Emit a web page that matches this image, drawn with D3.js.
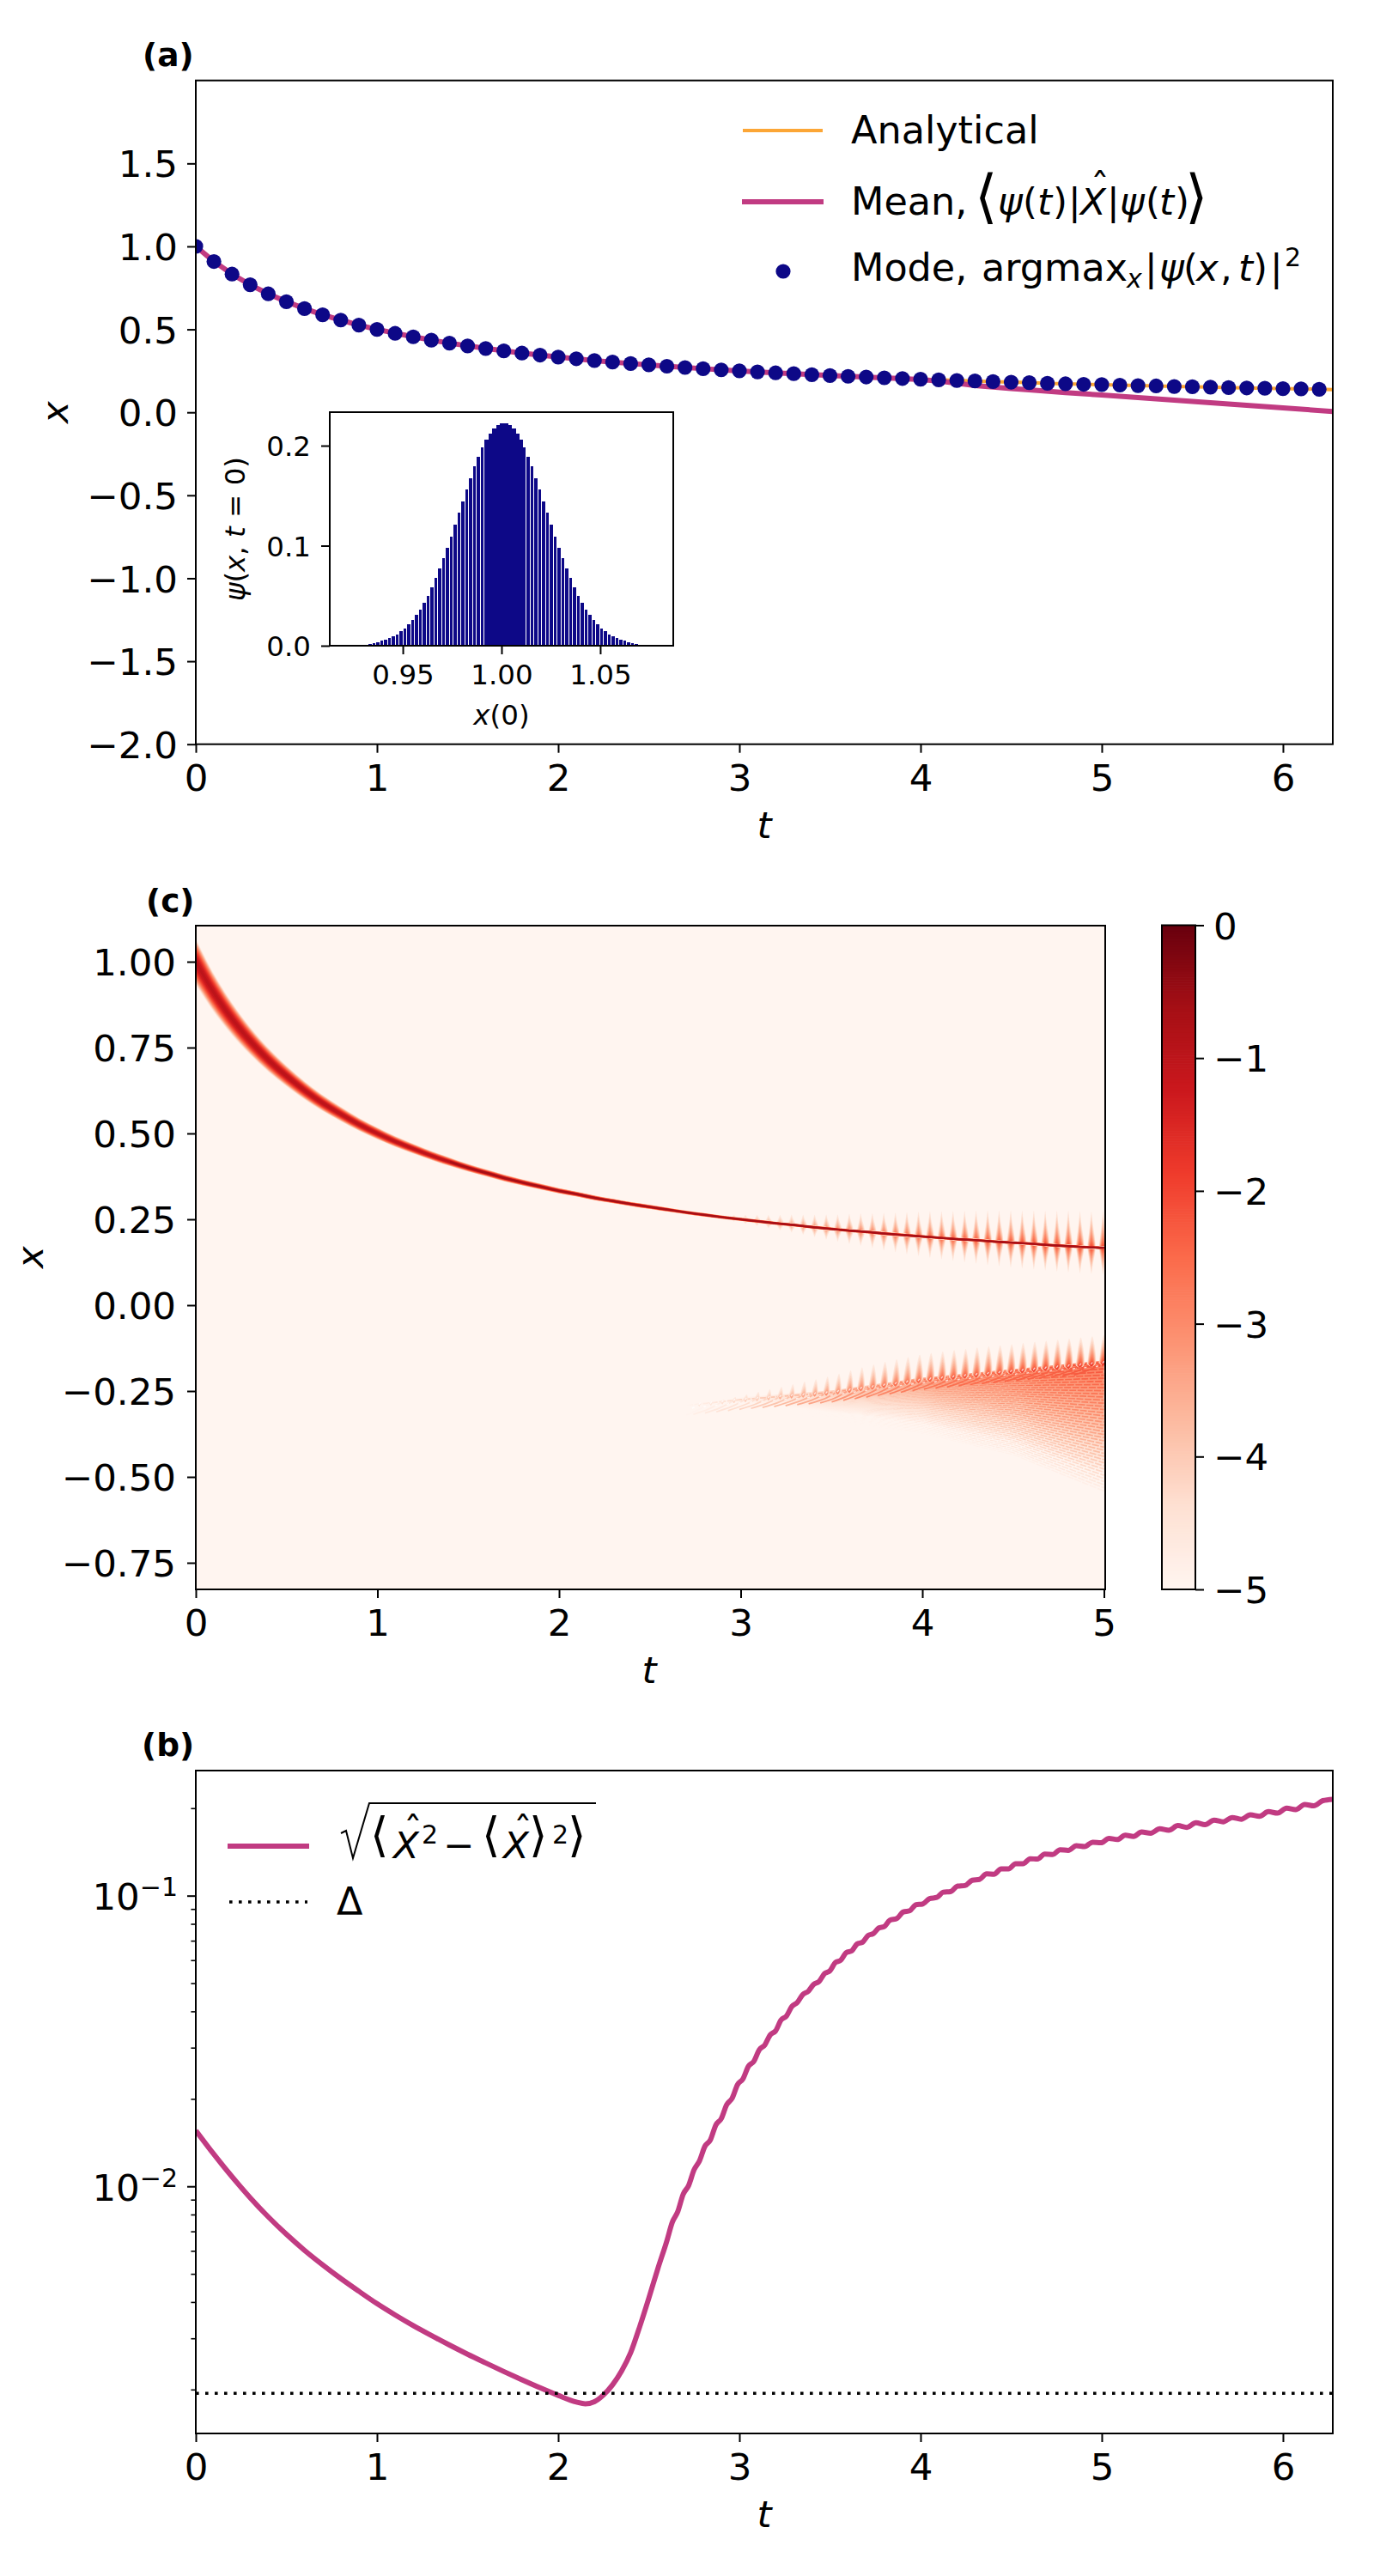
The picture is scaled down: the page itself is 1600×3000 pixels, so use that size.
<!DOCTYPE html>
<meta charset="utf-8">
<script src="https://d3js.org/d3.v7.min.js"></script>
<style>
body { margin: 0; background: #fff; }
text { font-family: "DejaVu Sans", sans-serif; fill: #000; }
</style>
<body>
<div id="my_dataviz"></div>
<script>

// time grid of the mode dots and the analytical curve
var tGrid = [0,.1,.2,.3,.4,.5,.6,.7,.8,.9,1,1.1,1.2,1.3,1.4,1.5,1.6,1.7,1.8,1.9,2,2.1,2.2,2.3,2.4,2.5,2.6,2.7,2.8,2.9,3,3.1,3.2,3.3,3.4,3.5,3.6,3.7,3.8,3.9,4,4.1,4.2,4.3,4.4,4.5,4.6,4.7,4.8,4.9,5,5.1,5.2,5.3,5.4,5.5,5.6,5.7,5.8,5.9,6,6.1,6.2]
var modeX = [1,.909,.833,.769,.714,.667,.625,.588,.556,.526,.5,.476,.455,.435,.417,.4,.385,.37,.357,.345,.333,.323,.312,.303,.294,.286,.278,.27,.263,.256,.25,.244,.238,.233,.227,.222,.217,.213,.208,.204,.2,.196,.192,.189,.185,.182,.179,.175,.172,.169,.167,.164,.161,.159,.156,.154,.152,.149,.147,.145,.143,.141,.139]
var analyticT = tGrid.concat([6.28])
var analyticX = modeX.concat([.137])

var meanT = [0,.1,.2,.3,.4,.5,.6,.7,.8,.9,1,1.2,1.4,1.6,1.8,2,2.2,2.4,2.6,2.8,3,3.2,3.4,3.6,3.8,4,4.1,4.2,4.3,4.4,4.5,4.6,4.8,5,5.2,5.4,5.6,5.8,6,6.28]
var meanX = [1,.909,.833,.769,.714,.667,.625,.588,.556,.526,.5,.455,.417,.385,.357,.333,.312,.294,.278,.263,.25,.238,.227,.217,.208,.198,.188,.176,.162,.152,.143,.135,.119,.104,.089,.074,.058,.043,.027,.005]

// inset histogram
var insetX = [.9318,.9337,.9357,.9376,.9396,.9415,.9435,.9454,.9474,.9494,.9513,.9533,.9552,.9572,.9591,.9611,.963,.965,.9669,.9689,.9708,.9728,.9747,.9767,.9786,.9806,.9825,.9845,.9865,.9884,.9904,.9923,.9943,.9962,.9982,1.0001,1.0021,1.004,1.006,1.0079,1.0099,1.0118,1.0138,1.0157,1.0177,1.0196,1.0216,1.0236,1.0255,1.0275,1.0294,1.0314,1.0333,1.0353,1.0372,1.0392,1.0411,1.0431,1.045,1.047,1.0489,1.0509,1.0528,1.0548,1.0567,1.0587,1.0607,1.0626,1.0646,1.0665,1.0685,1.0704]
var insetPsi = [.0009,.0017,.0026,.0035,.0052,.0061,.0078,.0095,.0113,.0147,.0173,.0216,.026,.0311,.0363,.0432,.0502,.0588,.0674,.0769,.0873,.0977,.1089,.1211,.1332,.1444,.1565,.1677,.179,.1885,.198,.2058,.2118,.217,.2207,.2222,.2222,.2207,.217,.2118,.2058,.198,.1885,.179,.1677,.1565,.1444,.1332,.1211,.1089,.0977,.0873,.0769,.0674,.0588,.0502,.0432,.0363,.0311,.026,.0216,.0173,.0147,.0113,.0095,.0078,.0061,.0052,.0035,.0026,.0017,.0009]

// heatmap: main ridge, read per 0.1 in t (tGrid up to 5)
var ridgeSigma = [.0162,.0134,.0113,.0096,.0083,.0072,.0063,.0056,.005,.0045,.0041,.0037,.0034,.0031,.0029,.0026,.0024,.0023,.0021,.002,.0018,.0017,.0016,.0015,.0014,.0014,.0013,.0012,.0012,.0011,.0011,.0011,.001,.001,.001,.001,.001,.001,.001,.001,.0009,.0009,.0009,.0009,.0009,.0009,.0009,.0009,.0009,.0009,.0009]
var ridgeTop = [-1.05,-1.04,-1.03,-1.02,-1.01,-1,-.99,-.98,-.97,-.96,-.95,-.94,-.92,-.91,-.89,-.88,-.86,-.84,-.83,-.81,-.8,-.79,-.78,-.77,-.76,-.75,-.74,-.73,-.72,-.71,-.7,-.69,-.68,-.67,-.66,-.65,-.64,-.63,-.62,-.61,-.6,-.59,-.58,-.57,-.56,-.55,-.54,-.53,-.52,-.51,-.5]

// heatmap: interference lobes, one entry per oscillation period
var combT = [2.772,2.836,2.899,2.963,3.026,3.09,3.153,3.217,3.28,3.344,3.407,3.471,3.534,3.598,3.661,3.725,3.788,3.852,3.915,3.979,4.042,4.106,4.169,4.233,4.296,4.36,4.423,4.487,4.55,4.614,4.677,4.741,4.804,4.868,4.931,4.995]
var combUp = [.003,.006,.01,.014,.018,.022,.026,.03,.034,.038,.042,.046,.05,.055,.059,.063,.067,.071,.075,.079,.083,.086,.089,.092,.095,.098,.1,.102,.104,.106,.108,.11,.112,.113,.114,.115]
var combDown = [.003,.005,.008,.011,.014,.017,.02,.023,.026,.029,.033,.037,.04,.044,.047,.051,.055,.058,.061,.064,.067,.069,.071,.073,.075,.077,.078,.079,.08,.081,.082,.083,.083,.084,.084,.085]
var combLevel = [-4.7,-4.45,-4.2,-4,-3.8,-3.65,-3.5,-3.4,-3.3,-3.2,-3.1,-3,-2.95,-2.85,-2.8,-2.75,-2.7,-2.6,-2.55,-2.5,-2.45,-2.4,-2.35,-2.3,-2.25,-2.2,-2.2,-2.15,-2.1,-2.1,-2.05,-2.05,-2,-2,-1.95,-1.95]
var lobeTip = [.004,.007,.011,.015,.02,.025,.03,.035,.04,.045,.05,.055,.06,.065,.069,.073,.076,.079,.081,.083,.084,.085,.086,.086,.087,.087,.087,.087,.087,.087,.087,.087,.087,.087,.087,.087]
var lobeLevel = [-4.7,-4.6,-4.45,-4.3,-4.15,-4,-3.85,-3.7,-3.55,-3.4,-3.3,-3.15,-3.05,-2.95,-2.85,-2.8,-2.7,-2.65,-2.6,-2.5,-2.45,-2.4,-2.35,-2.3,-2.25,-2.2,-2.2,-2.15,-2.1,-2.1,-2.05,-2.05,-2,-2,-1.95,-1.95]

// heatmap: envelope of the lower fan
var fanT = [2.7,3,3.5,4,4.5,5]
var fanTop = [-.292,-.275,-.254,-.217,-.192,-.167]
var fanBottom = [-.292,-.305,-.335,-.375,-.44,-.55]
var fanLevel = [-5,-4.2,-3.4,-2.7,-2.35,-2.05]

var stdT = [0,.1,.2,.3,.4,.5,.6,.7,.8,.9,1,1.1,1.2,1.3,1.4,1.5,1.6,1.7,1.8,1.9,2,2.1,2.15,2.2,2.25,2.3,2.35,2.4,2.45,2.5,2.55,2.6,2.63,2.66,2.69,2.72,2.75,2.78,2.81,2.84,2.87,2.9,2.93,2.96,2.99,3.02,3.05,3.08,3.11,3.14,3.17,3.2,3.23,3.26,3.29,3.32,3.35,3.38,3.41,3.44,3.47,3.5,3.53,3.56,3.59,3.62,3.65,3.68,3.71,3.74,3.77,3.8,3.83,3.87,3.905,3.94,3.975,4.01,4.05,4.09,4.125,4.165,4.205,4.245,4.285,4.325,4.365,4.405,4.445,4.485,4.525,4.565,4.605,4.645,4.685,4.73,4.77,4.815,4.86,4.905,4.95,4.995,5.04,5.085,5.13,5.175,5.22,5.27,5.32,5.37,5.42,5.47,5.52,5.57,5.62,5.67,5.72,5.77,5.82,5.87,5.92,5.97,6.02,6.07,6.12,6.17,6.22,6.28]
var stdLog = [-1.808,-1.89,-1.967,-2.039,-2.105,-2.165,-2.22,-2.27,-2.317,-2.361,-2.4036,-2.4425,-2.479,-2.513,-2.546,-2.5775,-2.6075,-2.637,-2.6655,-2.693,-2.719,-2.742,-2.7482,-2.7408,-2.7176,-2.6828,-2.6354,-2.5722,-2.4826,-2.385,-2.283,-2.187,-2.123,-2.087,-2.027,-1.997,-1.943,-1.912,-1.862,-1.84,-1.789,-1.767,-1.719,-1.697,-1.65,-1.63,-1.587,-1.57,-1.53,-1.514,-1.479,-1.465,-1.428,-1.414,-1.381,-1.367,-1.34,-1.329,-1.305,-1.295,-1.268,-1.258,-1.23,-1.222,-1.196,-1.19,-1.166,-1.16,-1.137,-1.13,-1.111,-1.106,-1.085,-1.078,-1.056,-1.052,-1.031,-1.029,-1.01,-1.006,-.988,-.986,-.967,-.965,-.947,-.944,-.925,-.926,-.908,-.908,-.89,-.89,-.873,-.874,-.857,-.858,-.842,-.844,-.828,-.831,-.816,-.818,-.803,-.807,-.792,-.796,-.781,-.785,-.77,-.775,-.759,-.765,-.749,-.756,-.74,-.746,-.731,-.737,-.722,-.727,-.711,-.716,-.699,-.704,-.686,-.691,-.673,-.668]
var deltaValue = .00194

var tTicksLong = [0,1,2,3,4,5,6]
var tTicksHeat = [0,1,2,3,4,5]
var xTicksA = [-2,-1.5,-1,-.5,0,.5,1,1.5]
var xTicksC = [-.75,-.5,-.25,0,.25,.5,.75,1]
var cbTicks = [-5,-4,-3,-2,-1,0]
var logMajor = [.01,.1]
var logMinor = [.002,.003,.004,.005,.006,.007,.008,.009,.02,.03,.04,.05,.06,.07,.08,.09,.2]

var navy = "#0d0887", pink = "#c13b82", orange = "#fca636"
var big = 43.5, mid = 32.5, sub = 30

var svg = d3.select("#my_dataviz").append("svg")
  .attr("width", 1600).attr("height", 3000)
  .style("display", "block")

var defs = svg.append("defs")

function clipRect(id, x, y, w, h) {
  defs.append("clipPath").attr("id", id).append("rect")
    .attr("x", x).attr("y", y).attr("width", w).attr("height", h)
}

function frame(x0, x1, y0, y1) {
  svg.append("rect").attr("x", x0).attr("y", y0)
    .attr("width", x1 - x0).attr("height", y1 - y0)
    .attr("fill", "none").attr("stroke", "#000").attr("stroke-width", 2)
}

function styleAxis(g, size, dy) {
  g.select(".domain").remove()
  g.selectAll(".tick line").attr("stroke", "#000").attr("stroke-width", 2)
  g.selectAll(".tick text").attr("font-size", size).attr("fill", "#000")
    .attr("font-family", '"DejaVu Sans"')
  if (dy) g.selectAll(".tick text").attr("dy", dy)
}

function bottomAxis(scale, values, y, fmt, size, pad) {
  var g = svg.append("g").attr("transform", "translate(0," + y + ")")
    .call(d3.axisBottom(scale).tickValues(values).tickSize(10).tickPadding(pad).tickFormat(fmt))
  styleAxis(g, size)
  return g
}

function leftAxis(scale, values, x, fmt, size, pad) {
  var g = svg.append("g").attr("transform", "translate(" + x + ",0)")
    .call(d3.axisLeft(scale).tickValues(values).tickSize(10).tickPadding(pad).tickFormat(fmt))
  styleAxis(g, size, ".36em")
  return g
}

function label(x, y, str, size, opts) {
  opts = opts || {}
  var t = svg.append("text").attr("font-size", size).text(str)
  t.attr("x", x).attr("y", y)
  if (opts.italic) t.attr("font-style", "italic")
  if (opts.bold) t.attr("font-weight", "bold")
  if (opts.anchor) t.attr("text-anchor", opts.anchor)
  if (opts.rotate) t.attr("x", 0).attr("y", 0).attr("transform", "translate(" + x + "," + y + ") rotate(-90)")
  return t
}

// one text element per formula, each piece [x, y, string, size, italic]
function formula(pieces) {
  var t = svg.append("text")
  pieces.forEach(function(p) {
    var s = t.append("tspan").attr("x", p[0]).attr("y", p[1]).attr("font-size", p[3] || big).text(p[2])
    if (p[4]) s.attr("font-style", "italic")
  })
  return t
}

// ---------- panel (a)
var xA = d3.scaleLinear().domain([0, 6.275]).range([228, 1552])
var yA = d3.scaleLinear().domain([-2, 2]).range([866.7, 93.7])
clipRect("clipA", 228, 93.7, 1324, 773)

var lineA = d3.line().x(function(d) { return xA(d[0]) }).y(function(d) { return yA(d[1]) })
var gA = svg.append("g").attr("clip-path", "url(#clipA)")
gA.append("path").attr("d", lineA(d3.zip(analyticT, analyticX)))
  .attr("fill", "none").attr("stroke", orange).attr("stroke-width", 4)
gA.append("path").attr("d", lineA(d3.zip(meanT, meanX)))
  .attr("fill", "none").attr("stroke", pink).attr("stroke-width", 6)
gA.selectAll("circle").data(d3.zip(tGrid, modeX)).enter().append("circle")
  .attr("cx", function(d) { return xA(d[0]) })
  .attr("cy", function(d) { return yA(d[1]) })
  .attr("r", 8.6).attr("fill", navy)

bottomAxis(xA, tTicksLong, 866.7, d3.format("d"), big, 13.5)
leftAxis(yA, xTicksA, 228, d3.format(".1f"), big, 11)
frame(228, 1552, 93.7, 866.7)
label(166, 77, "(a)", 37.5, { bold: true })
label(890, 976, "t", big, { italic: true, anchor: "middle" })
label(79, 480, "x", big, { italic: true, anchor: "middle", rotate: true })

// legend (a)
svg.append("line").attr("x1", 865).attr("x2", 958).attr("y1", 152).attr("y2", 152)
  .attr("stroke", orange).attr("stroke-width", 4)
svg.append("line").attr("x1", 864).attr("x2", 959).attr("y1", 235).attr("y2", 235)
  .attr("stroke", pink).attr("stroke-width", 6)
svg.append("circle").attr("cx", 912).attr("cy", 316).attr("r", 8.6).attr("fill", navy)
label(991, 167, "Analytical", 44.5)
formula([
  [991, 250, "Mean,", 44.5],
  [1135, 252, "\u27E8", 68],
  [1162, 250, "\u03C8", big, true],
  [1191, 250, "(", big],
  [1208, 250, "t", big, true],
  [1226, 250, ")", big],
  [1244, 250, "|", big],
  [1258, 250, "X", big, true],
  [1270, 232, "\u02C6", big],
  [1289, 250, "|", big],
  [1304, 250, "\u03C8", big, true],
  [1334, 250, "(", big],
  [1350, 250, "t", big, true],
  [1368, 250, ")", big],
  [1380, 252, "\u27E9", 68]
])
formula([
  [991, 327, "Mode,", 44.5],
  [1143, 327, "argmax", 44.5],
  [1312, 335, "x", sub, true],
  [1333, 327, "|", big],
  [1350, 327, "\u03C8", big, true],
  [1378, 327, "(", big],
  [1393, 327, "x", big, true],
  [1421, 327, ",", big],
  [1442, 327, "t", big, true],
  [1459, 327, ")", big],
  [1479, 327, "|", big],
  [1496, 310, "2", sub]
])

// inset
var xIn = d3.scaleLinear().domain([.913, 1.087]).range([384, 784])
var yIn = d3.scaleLinear().domain([0, .2335]).range([752, 480])
svg.append("rect").attr("x", 384).attr("y", 480).attr("width", 400).attr("height", 272).attr("fill", "#fff")
// the centre bars touch on the pixel grid, the outer ones keep a 1px gap
svg.append("g").selectAll("rect").data(d3.zip(insetX, insetPsi)).enter().append("rect")
  .attr("x", function(d) { return Math.round(xIn(d[0]) - 2.26) })
  .attr("width", function(d) { return Math.abs(d[0] - 1.001) < .0105 ? 5 : Math.round(xIn(d[0] + .00195) - 2.26) - Math.round(xIn(d[0]) - 2.26) - 1 })
  .attr("y", function(d) { return yIn(d[1]) })
  .attr("height", function(d) { return 752 - yIn(d[1]) })
  .attr("fill", navy).attr("shape-rendering", "crispEdges")
bottomAxis(xIn, [.95, 1, 1.05], 752, d3.format(".2f"), mid, 12)
leftAxis(yIn, [0, .1, .2], 384, d3.format(".1f"), mid, 12)
frame(384, 784, 480, 752)
var insetLab = label(584, 844, "", mid, { anchor: "middle" })
insetLab.append("tspan").attr("font-style", "italic").text("x")
insetLab.append("tspan").text("(0)")
var insetY = label(285, 616, "", mid, { anchor: "middle", rotate: true })
insetY.append("tspan").attr("font-style", "italic").text("\u03C8")
insetY.append("tspan").text("(")
insetY.append("tspan").attr("font-style", "italic").text("x")
insetY.append("tspan").text(", ")
insetY.append("tspan").attr("font-style", "italic").text("t")
insetY.append("tspan").text(" = 0)")

// ---------- panel (c)
var xC = d3.scaleLinear().domain([0, 5.007]).range([228, 1287])
var yC = d3.scaleLinear().domain([-.8275, 1.105]).range([1851, 1078])
clipRect("clipC", 228, 1078, 1059, 773)

var redsDomain = d3.range(9).map(function(i) { return -5 + i * 5 / 8 })
var heat = d3.scaleLinear().domain(redsDomain).range(d3.schemeReds[9]).clamp(true)

var gC = svg.append("g").attr("clip-path", "url(#clipC)")
gC.append("rect").attr("x", 228).attr("y", 1078).attr("width", 1059).attr("height", 773).attr("fill", heat(-5))

var topAt = d3.scaleLinear().domain(fanT).range(fanTop)
var botAt = d3.scaleLinear().domain(fanT).range(fanBottom)
var levelAt = d3.scaleLinear().domain(fanT).range(fanLevel)
var centreAt = d3.scaleLinear().domain(tGrid).range(modeX)

// fan lines, lightest at the bottom
var nFan = 42
var fanSample = d3.range(2.7, 5.06, .1)
var fanLine = d3.line().x(function(d) { return xC(d[0]) }).y(function(d) { return yC(d[1]) }).curve(d3.curveCatmullRom)
var gFan = gC.append("g")

function fanStroke(k, drop) {
  var id = "fan" + k + (drop ? "b" : "a")
  var f = k / nFan
  var g = defs.append("linearGradient").attr("id", id)
    .attr("gradientUnits", "userSpaceOnUse").attr("x1", xC(2.7)).attr("x2", xC(5)).attr("y1", 0).attr("y2", 0)
  fanSample.forEach(function(t, i) {
    var lv = -5 + (levelAt(Math.min(t, 5)) + 5) * Math.pow(1 - f, .75) - drop
    g.append("stop").attr("offset", Math.min(1, i / (fanSample.length - 2))).attr("stop-color", heat(lv))
  })
  return "url(#" + id + ")"
}

d3.range(nFan, -1, -1).forEach(function(k) {
  var f = k / nFan
  var pts = fanSample.map(function(t) {
    var c = Math.min(t, 5)
    return [t, topAt(c) + f * (botAt(c) - topAt(c))]
  })
  gFan.append("path").attr("d", fanLine(pts)).attr("fill", "none")
    .attr("stroke", fanStroke(k, .7)).attr("stroke-width", 4.6)
  gFan.append("path").attr("d", fanLine(pts)).attr("fill", "none")
    .attr("stroke", fanStroke(k, 0)).attr("stroke-width", 1.8)
    .attr("stroke-dasharray", "8 1.6").attr("stroke-dashoffset", k * 3.7)
})

// tails and lobes on the upper edge of the fan
var lobeLine = d3.line().x(function(d) { return xC(d[0]) }).y(function(d) { return yC(d[1]) })
combT.forEach(function(t, i) {
  var topC = lobeLevel[i]
  var tail = [[t, topAt(t)], [t - .025, topAt(t) - .008], [t - .08, topAt(t - .08) - .018], [Math.max(2.7, t - .16), topAt(Math.max(2.7, t - .16)) - .028]]
  gC.append("path").attr("d", fanLine(tail)).attr("fill", "none")
    .attr("stroke", heat(topC - .35)).attr("stroke-width", 1.8)
  var early = .5 + .5 * Math.min(1, (t - 2.7) / 1.2)
  for (var L = -4.8; L < topC; L += .2) {
    var f = (topC - L) / (topC + 5)
    var h = lobeTip[i] * Math.pow(f, 1.3)
    var w = .024 * (.35 + .65 * f) * early
    var lean = .014 * (1 - t / 6)
    gC.append("path").attr("d", fanLine([
      [t - w, topAt(t - w)], [t - w * .35 + lean, topAt(t) + h * .8],
      [t + w * .1 + lean, topAt(t) + h], [t + w, topAt(t + w)],
      [t, topAt(t) - .008], [t - w, topAt(t - w)]
    ])).attr("fill", heat(L + .2))
  }
  gC.append("path").attr("d", fanLine([[t + .006, topAt(t) + .004], [t - .012, topAt(t) - .006], [t - .04, topAt(t) - .012]]))
    .attr("fill", "none").attr("stroke", "#fff").attr("stroke-opacity", .75)
    .attr("stroke-width", 1.4).attr("stroke-dasharray", "3 6")
})

// lobes around the main ridge
combT.forEach(function(t, i) {
  var c = centreAt(t), topC = combLevel[i]
  for (var L = -4.8; L < topC; L += .2) {
    var f = (topC - L) / (topC + 5)
    var w = .024 * (.35 + .65 * f)
    var fu = Math.pow(f, 1.3)
    gC.append("path").attr("d", fanLine([
      [t - w, c], [t - w * .3, c + combUp[i] * fu * .7], [t, c + combUp[i] * fu], [t + w * .3, c + combUp[i] * fu * .7],
      [t + w, c], [t + w * .3, c - combDown[i] * fu * .7], [t, c - combDown[i] * fu], [t - w * .3, c - combDown[i] * fu * .7], [t - w, c]
    ])).attr("fill", heat(L + .2))
  }
})

// main ridge as nested level bands
var ridgeIdx = d3.range(0, 51)
function bandWidth(i, L) {
  return ridgeSigma[i] * Math.sqrt(Math.max(0, ridgeTop[i] - L) / .217)
}
for (var L = -4.9; L < -.5; L += .2) {
  (function(level) {
    var a = d3.area().curve(d3.curveCatmullRom)
      .x(function(i) { return xC(tGrid[i]) })
      .y0(function(i) { return yC(modeX[i] - bandWidth(i, level)) })
      .y1(function(i) { return yC(modeX[i] + bandWidth(i, level)) })
    gC.append("path").attr("d", a(ridgeIdx)).attr("fill", heat(level + .1))
  })(L)
}
// dark core where the band is thinner than a few pixels
var coreIdx = d3.range(14, 51)
gC.append("path").attr("d", fanLine(coreIdx.map(function(i) { return [tGrid[i], modeX[i]] })))
  .attr("fill", "none").attr("stroke", heat(-.65)).attr("stroke-width", 2.4)

bottomAxis(xC, tTicksHeat, 1851, d3.format("d"), big, 13.5)
leftAxis(yC, xTicksC, 228, d3.format(".2f"), big, 13)
frame(228, 1287, 1078, 1851)
label(170, 1062, "(c)", 37.5, { bold: true })
label(756, 1960, "t", big, { italic: true, anchor: "middle" })
label(50, 1464, "x", big, { italic: true, anchor: "middle", rotate: true })

// colorbar
var yCb = d3.scaleLinear().domain([-5, 0]).range([1851, 1077.5])
var cbSteps = d3.range(0, 256).map(function(i) { return -5 + i * 5 / 255 })
clipRect("clipCb", 1353, 1077.5, 39, 773.5)
svg.append("g").attr("clip-path", "url(#clipCb)").selectAll("rect").data(cbSteps).enter().append("rect")
  .attr("x", 1353).attr("width", 39)
  .attr("y", function(d) { return yCb(d) - 3.1 })
  .attr("height", 3.7)
  .attr("fill", function(d) { return heat(d) })
var cbAxis = svg.append("g").attr("transform", "translate(1392,0)")
  .call(d3.axisRight(yCb).tickValues(cbTicks).tickSize(10).tickPadding(11).tickFormat(d3.format("d")))
styleAxis(cbAxis, big, ".36em")
frame(1353, 1392, 1077.5, 1851)

// ---------- panel (b)
var xB = d3.scaleLinear().domain([0, 6.275]).range([228, 1552])
var yB = d3.scaleLog().domain([.001412, .2694]).range([2834, 2062])
clipRect("clipB", 228, 2062, 1324, 772)

var lineB = d3.line().x(function(d) { return xB(d[0]) }).y(function(d) { return yB(Math.pow(10, d[1])) })
  .curve(d3.curveMonotoneX)
var gB = svg.append("g").attr("clip-path", "url(#clipB)")
gB.append("path").attr("d", lineB(d3.zip(stdT, stdLog)))
  .attr("fill", "none").attr("stroke", pink).attr("stroke-width", 6).attr("stroke-linejoin", "round")
gB.append("line").attr("x1", 228).attr("x2", 1552).attr("y1", yB(deltaValue)).attr("y2", yB(deltaValue))
  .attr("stroke", "#000").attr("stroke-width", 3.6).attr("stroke-dasharray", "3.6 7.4")

bottomAxis(xB, tTicksLong, 2834, d3.format("d"), big, 13.5)
var minorB = svg.append("g").attr("transform", "translate(228,0)")
  .call(d3.axisLeft(yB).tickValues(logMinor).tickSize(5.6).tickFormat(""))
minorB.select(".domain").remove()
minorB.selectAll(".tick line").attr("stroke", "#000").attr("stroke-width", 1.6)
var majorB = svg.append("g").attr("transform", "translate(228,0)")
  .call(d3.axisLeft(yB).tickValues(logMajor).tickSize(10).tickPadding(11).tickFormat(""))
majorB.select(".domain").remove()
majorB.selectAll(".tick line").attr("stroke", "#000").attr("stroke-width", 2)
majorB.selectAll(".tick text").each(function(d) {
  var t = d3.select(this).attr("font-size", big).attr("dy", null).attr("y", 16).attr("fill", "#000")
    .attr("font-family", '"DejaVu Sans"')
  t.append("tspan").text("10")
  t.append("tspan").attr("font-size", sub).attr("dy", -16).text("\u2212" + Math.round(-Math.log10(d)))
})
frame(228, 1552, 2062, 2834)
label(165, 2045, "(b)", 37.5, { bold: true })
label(890, 2943, "t", big, { italic: true, anchor: "middle" })

// legend (b)
svg.append("line").attr("x1", 265).attr("x2", 360).attr("y1", 2150).attr("y2", 2150)
  .attr("stroke", pink).attr("stroke-width", 6)
svg.append("line").attr("x1", 267).attr("x2", 358).attr("y1", 2215).attr("y2", 2215)
  .attr("stroke", "#000").attr("stroke-width", 3.6).attr("stroke-dasharray", "3.6 7.4")
svg.append("path").attr("d", d3.line()([[397, 2135], [403, 2132], [411, 2164], [430, 2100], [694, 2100]]))
  .attr("fill", "none").attr("stroke", "#000").attr("stroke-width", 2)
formula([
  [431, 2156, "\u27E8", 55],
  [458, 2164, "X", big, true],
  [470, 2146, "\u02C6", big],
  [491, 2147, "2", sub],
  [516, 2164, "\u2212", big],
  [561, 2156, "\u27E8", 55],
  [586, 2164, "X", big, true],
  [598, 2146, "\u02C6", big],
  [616, 2156, "\u27E9", 55],
  [643, 2147, "2", sub],
  [661, 2156, "\u27E9", 55]
])
label(392, 2230, "\u0394", 44.5)

</script>
</body>
